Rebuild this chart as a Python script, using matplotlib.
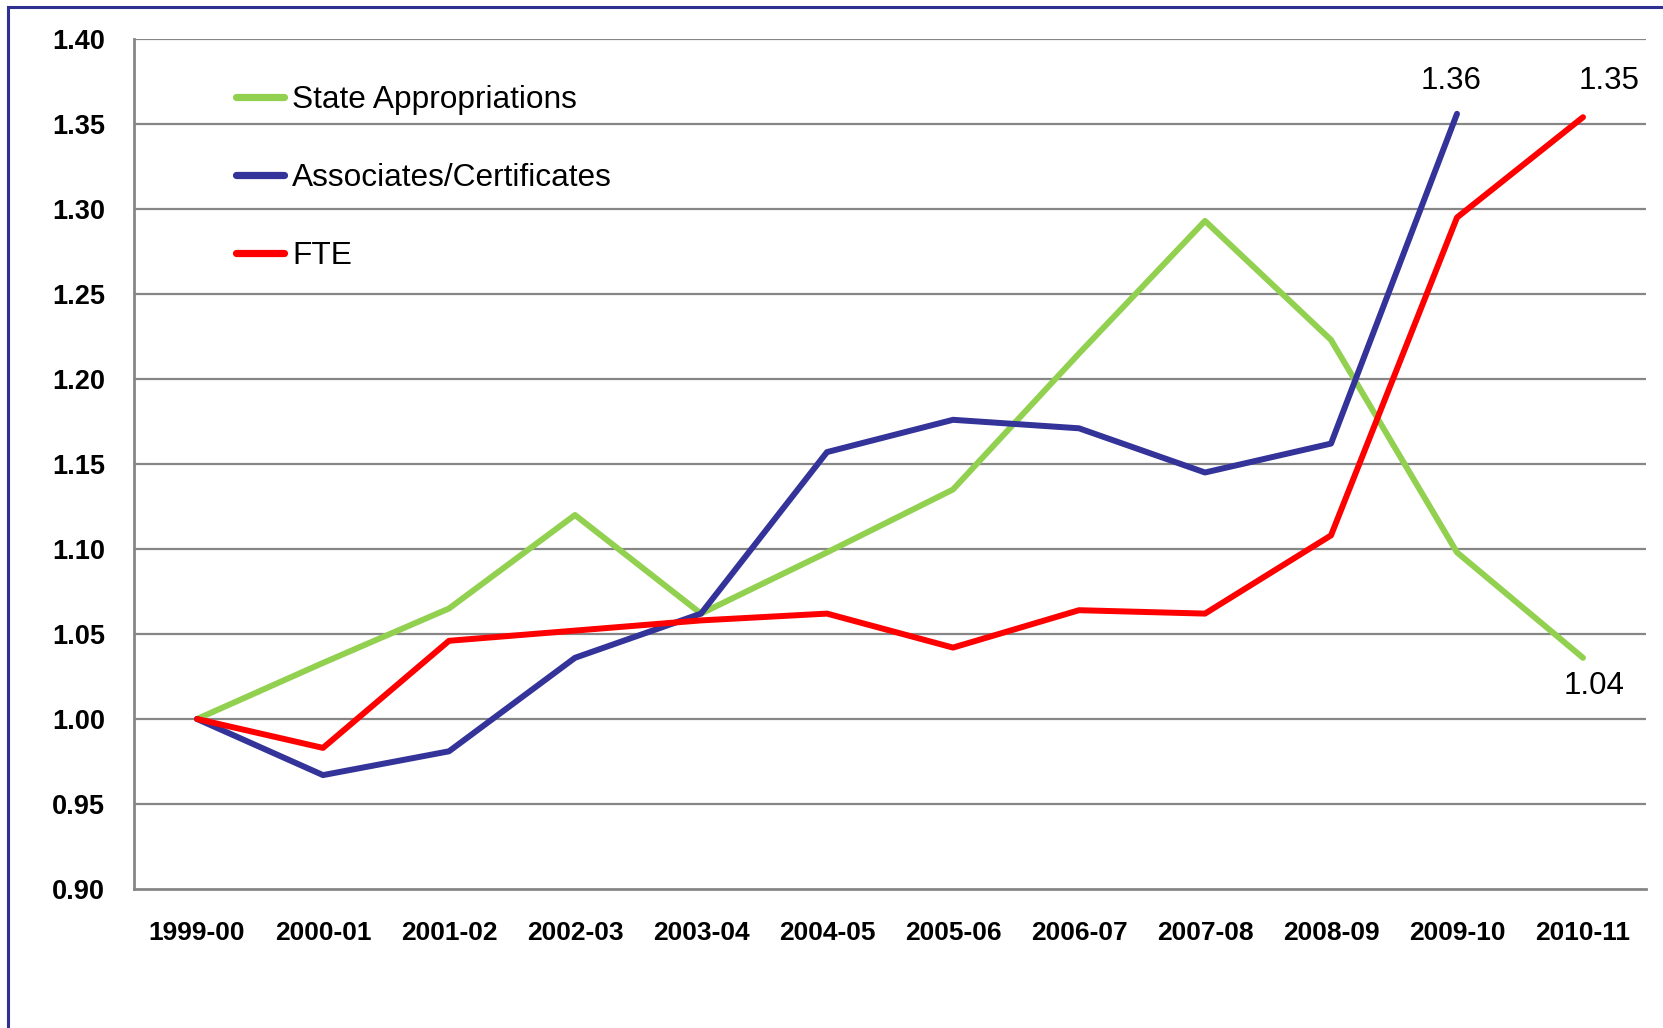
import matplotlib
matplotlib.use("Agg")
import matplotlib.pyplot as plt
from matplotlib.lines import Line2D
from matplotlib.patches import Rectangle

# ---------------- data ----------------
YEARS = ["1999-00", "2000-01", "2001-02", "2002-03", "2003-04", "2004-05",
         "2005-06", "2006-07", "2007-08", "2008-09", "2009-10", "2010-11"]
STATE_APPROP = [1.000, 1.033, 1.065, 1.120, 1.062, 1.098, 1.135, 1.215, 1.293, 1.223, 1.098, 1.036]
ASSOC_CERT = [1.000, 0.967, 0.981, 1.036, 1.062, 1.157, 1.176, 1.171, 1.145, 1.162, 1.356]
FTE = [1.000, 0.983, 1.046, 1.052, 1.058, 1.062, 1.042, 1.064, 1.062, 1.108, 1.295, 1.354]
Y_TICKS = [0.90, 0.95, 1.00, 1.05, 1.10, 1.15, 1.20, 1.25, 1.30, 1.35, 1.40]

GREEN = "#92D050"
BLUE = "#333399"
RED = "#FF0000"
GRID = "#868686"
BORDER = "#2E3192"

plt.rcParams["font.family"] = ["Liberation Sans", "DejaVu Sans"]

W, H = 1663, 1028
fig = plt.figure(figsize=(W / 100, H / 100), dpi=100)
fig.patch.set_facecolor("white")

# outer frame (top and left visible)
fig.patches.append(Rectangle((8 / W, -0.05), 1.2, 1 - 7 / H + 0.05, transform=fig.transFigure,
                             fill=False, edgecolor=BORDER, linewidth=2.2))

ax = fig.add_axes([134 / W, 1 - 889 / H, (1646 - 134) / W, (889 - 39) / H])
x = list(range(len(YEARS)))

ax.plot(x, STATE_APPROP, color=GREEN, lw=4.3, solid_capstyle="round", zorder=3)
ax.plot(x[:len(ASSOC_CERT)], ASSOC_CERT, color=BLUE, lw=4.3, solid_capstyle="round", zorder=3)
ax.plot(x, FTE, color=RED, lw=4.3, solid_capstyle="round", zorder=4)

ax.set_xlim(-0.5, len(YEARS) - 0.5)
ax.set_ylim(0.90, 1.40)
ax.set_yticks(Y_TICKS)
ax.set_yticklabels([f"{v:.2f}" for v in Y_TICKS], fontsize=19.5, fontweight="bold")
ax.set_xticks(x)
ax.set_xticklabels(YEARS, fontsize=19, fontweight="bold")
ax.tick_params(axis="both", length=0)
ax.tick_params(axis="y", pad=21)
ax.tick_params(axis="x", pad=23)

for v in Y_TICKS[1:]:
    ax.axhline(v, color=GRID, lw=1.6, zorder=1)
for s in ["top", "right", "bottom"]:
    ax.spines[s].set_visible(False)
ax.spines["left"].set_color(GRID)
ax.spines["left"].set_linewidth(2.0)
ax.axhline(0.90, color=GRID, lw=2.0, zorder=1, clip_on=False)

# end-point labels
ax.annotate(f"{ASSOC_CERT[-1]:.2f}", (len(ASSOC_CERT) - 1, ASSOC_CERT[-1]), xytext=(-6, 33),
            textcoords="offset pixels", ha="center", va="center", fontsize=22.5)
ax.annotate(f"{FTE[-1]:.2f}", (len(FTE) - 1, FTE[-1]), xytext=(26, 36),
            textcoords="offset pixels", ha="center", va="center", fontsize=22.5)
ax.annotate(f"{STATE_APPROP[-1]:.2f}", (len(STATE_APPROP) - 1, STATE_APPROP[-1]), xytext=(11, -28),
            textcoords="offset pixels", ha="center", va="center", fontsize=22.5)

handles = [Line2D([], [], color=c, lw=5.2, solid_capstyle="round") for c in (GREEN, BLUE, RED)]
ax.legend(handles, ["State Appropriations", "Associates/Certificates", "FTE"],
          loc="upper left", bbox_to_anchor=((236 - 134) / (1646 - 134), 1 - (85 - 39) / (889 - 39)),
          frameon=False, fontsize=22.8, handlelength=1.53, handletextpad=0.25,
          labelspacing=1.52, borderaxespad=0, borderpad=0)

fig.savefig("out.png", dpi=100, facecolor="white")
